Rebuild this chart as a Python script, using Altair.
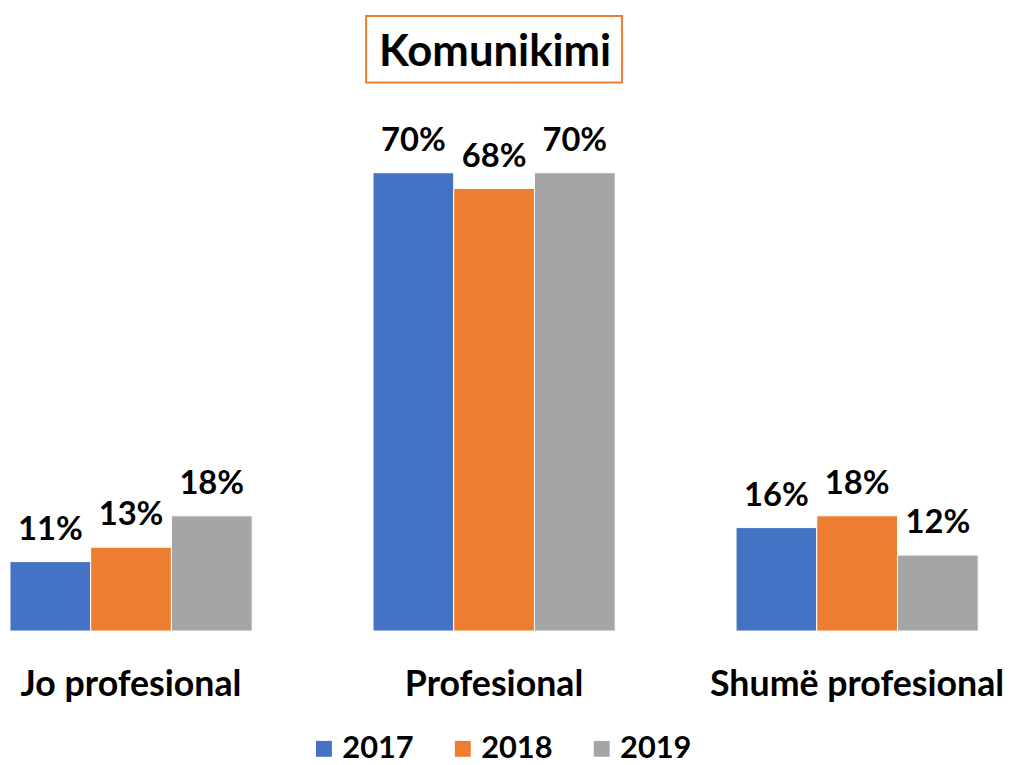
import altair as alt
import pandas as pd

categories = ["Jo profesional", "Profesional", "Shumë profesional"]
years = ["2017", "2018", "2019"]
values_2017 = [10.6, 70.0, 15.8]
values_2018 = [12.8, 67.6, 17.6]
values_2019 = [17.6, 70.0, 11.6]
colors = ["#4472C4", "#ED7D31", "#A5A5A5"]
title_text = ["Komunikimi"]

rows = []
for i, c in enumerate(categories):
    for y, vals in zip(years, [values_2017, values_2018, values_2019]):
        rows.append({"cat": c, "year": y, "value": vals[i]})
df = pd.DataFrame(rows)

FONT = "Lato"
yscale = alt.Scale(domain=[0, 80])

base = alt.Chart(df).encode(
    x=alt.X("cat:N", sort=categories,
            scale=alt.Scale(paddingInner=0.333, paddingOuter=0),
            axis=alt.Axis(title=None, labelAngle=0, domain=False, ticks=False,
                          labelFontSize=36, labelFontWeight="bold", labelColor="black",
                          labelFont=FONT, labelPadding=37, labelLimit=0, grid=False)),
    xOffset=alt.XOffset("year:N", sort=years, scale=alt.Scale(paddingInner=0, paddingOuter=0)),
)

bars = base.mark_bar(stroke="white", strokeWidth=1).encode(
    y=alt.Y("value:Q", scale=yscale, axis=None),
    color=alt.Color("year:N", sort=years,
                    scale=alt.Scale(domain=years, range=colors),
                    legend=alt.Legend(title=None, orient="none", direction="horizontal",
                                      legendX=301, legendY=631,
                                      symbolType="square", symbolSize=256,
                                      symbolStrokeWidth=0,
                                      labelFontSize=31, labelFontWeight="bold",
                                      labelFont=FONT, labelColor="black",
                                      labelOffset=3, columnPadding=34)),
)

labels = base.transform_calculate(
    label="format(datum.value, '.0f') + '%'"
).mark_text(dy=-22, fontSize=33, fontWeight="bold", font=FONT,
            color="black", baseline="alphabetic").encode(
    y=alt.Y("value:Q", scale=yscale),
    text="label:N",
)

title_df = pd.DataFrame({"t": title_text})
box = alt.Chart(title_df).mark_rect(
    fill="white", stroke="#ED7D31", strokeWidth=2
).encode(x=alt.value(359), x2=alt.value(617), y=alt.value(-92), y2=alt.value(-25))

title = alt.Chart(title_df).mark_text(
    fontSize=44, fontWeight="bold", font=FONT, color="black",
    baseline="alphabetic", align="center"
).encode(x=alt.value(489), y=alt.value(-42), text="t:N")

chart = alt.layer(box, title, bars, labels).properties(
    width=976, height=528,
    padding={"left": 2, "top": 97, "right": 25, "bottom": 132},
    autosize=alt.AutoSizeParams(type="none"),
).configure_view(stroke=None)

chart.save("out.html", embed_options={"renderer": "svg", "actions": False})
